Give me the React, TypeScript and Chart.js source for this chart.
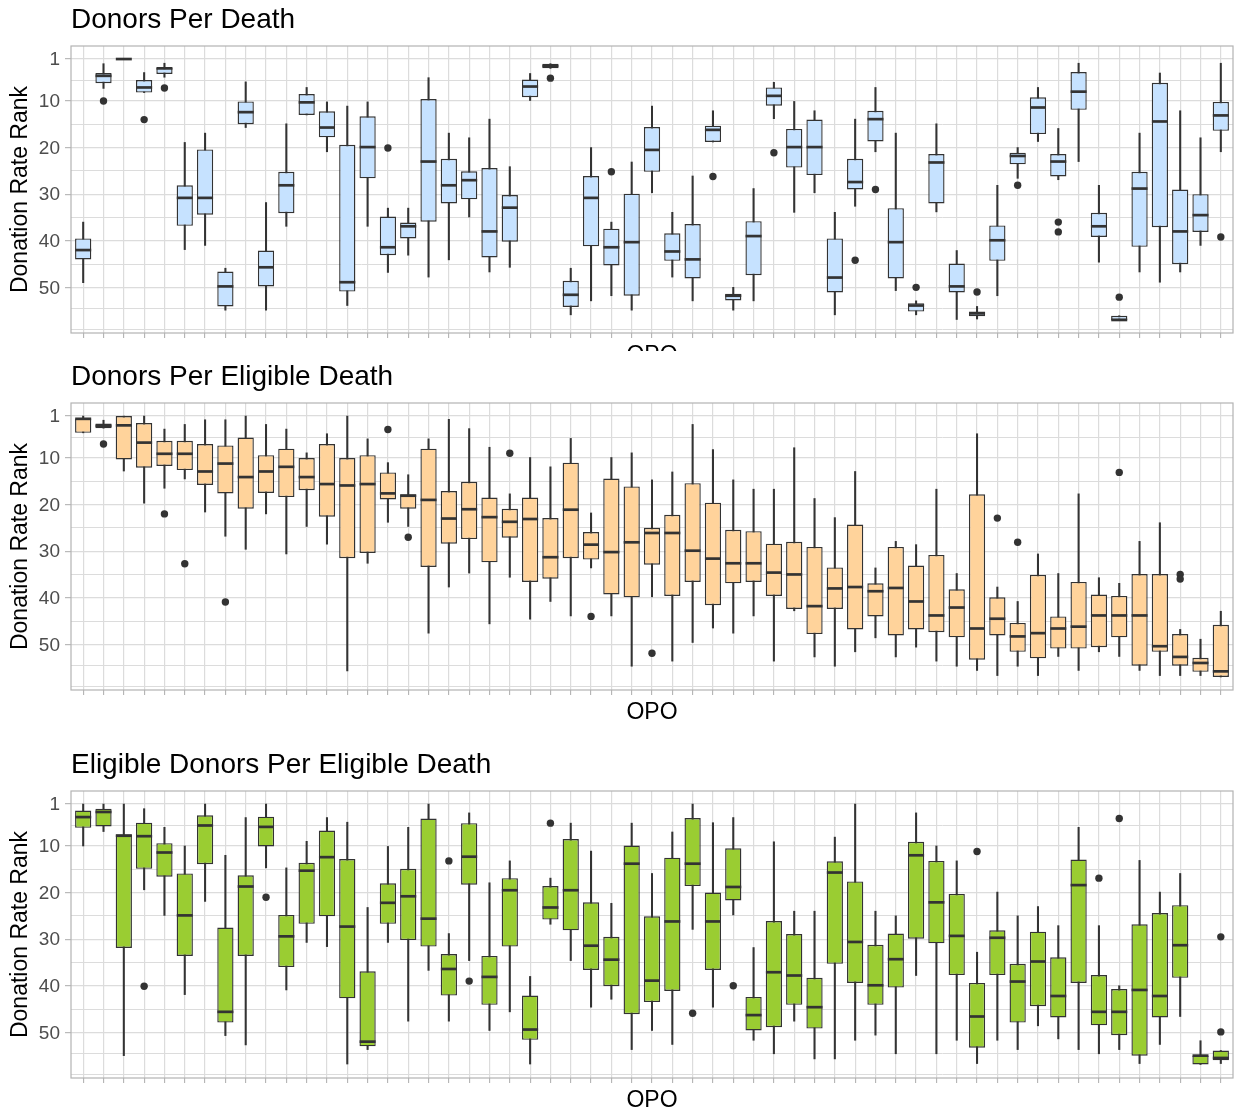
import React, { useEffect, useRef } from 'react';
import { Chart, registerables } from 'chart.js';

Chart.register(...registerables);

const FONT = '"Liberation Sans", Arial, Helvetica, sans-serif';

// ---- texts / ticks ----
const PANEL_TITLES = ['Donors Per Death', 'Donors Per Eligible Death', 'Eligible Donors Per Eligible Death'];
const X_TITLE = 'OPO';
const Y_TITLE = 'Donation Rate Rank';
const Y_TICK_LABELS = [1, 10, 20, 30, 40, 50];
const Y_MINOR_BREAKS = [5.5, 15, 25, 35, 45, 54.5, 59];

// ---- Panel 1: Donors Per Death (one box per OPO, 57 OPOs) ----
const DPD_LO = [36, 2, 1, 3.9, 1.9, 18.9, 16.9, 45.9, 5.9, 31.8, 14.9, 7.1, 10.2, 11.1, 10.2, 33, 33, 5, 16.9, 17.9, 13.9, 24.1, 4.1, 2, 45.9, 20, 36, 23.1, 11.1, 33.9, 26.1, 12.1, 50, 28.8, 6, 10.1, 12.1, 33.9, 13.9, 7.1, 16.9, 52.9, 14.9, 42.1, 54.1, 28.1, 20, 7.1, 15.9, 1.9, 28.1, 56.1, 16.9, 4, 12.1, 17.9, 1.9];
const DPD_Q1 = [39.5, 4, 1, 5.5, 2.9, 28.1, 20.4, 46.6, 10.1, 42.1, 25.2, 8.5, 12.2, 19.4, 13.3, 34.8, 36.1, 9.6, 22.4, 25.1, 24.4, 30.2, 5.4, 2, 48.6, 26.1, 37.4, 29.9, 15.6, 38.4, 36.4, 15.3, 51.4, 35.8, 7.1, 16, 14, 39.5, 22.4, 12.1, 33, 53.4, 21.4, 44.9, 55.2, 36.7, 21.1, 9.2, 21.4, 3.8, 34, 56.1, 25.2, 6.1, 29, 30, 10.2];
const DPD_MED = [42, 4.6, 1, 7.1, 3.0, 30.8, 30.8, 49.8, 12.4, 45.7, 28.1, 10.3, 15.7, 48.9, 19.9, 41.4, 36.9, 23, 28.1, 27, 38, 32.9, 6.9, 2.5, 51.6, 30.8, 41.4, 40.3, 20.5, 42.3, 44, 16.2, 51.8, 39, 8.9, 19.9, 19.9, 47.9, 27.4, 13.9, 40.3, 53.9, 23.2, 49.8, 55.6, 39.9, 21.8, 11.4, 23, 8, 36.9, 57, 28.8, 14.4, 38, 34.5, 13.1];
const DPD_Q3 = [44, 6.2, 1, 8.2, 4.2, 36.8, 34.4, 54.1, 15, 49.8, 34.1, 13, 17.8, 50.9, 26.6, 43.1, 39.5, 35.9, 32, 31.1, 43.6, 40.2, 9.2, 3, 54.2, 41.2, 45.3, 51.8, 25.2, 44.3, 48.1, 18.8, 52.8, 47.4, 11, 24.3, 25.9, 51.1, 29, 18.7, 48.1, 55.2, 32, 51.1, 56.2, 44.3, 23.6, 17.1, 26.2, 11.9, 39.2, 57, 41.3, 37.1, 45, 38.1, 16.4];
const DPD_HI = [49, 7.3, 1, 8.2, 4.9, 41.9, 41, 54.9, 15.7, 54.9, 36.9, 13, 20.9, 53.9, 36.9, 46.8, 43.1, 47.8, 44.1, 34.9, 46.7, 45.7, 9.9, 3, 55.9, 52.9, 51.8, 54.9, 29.7, 47.8, 52.9, 18.8, 54.9, 52.9, 13.8, 33.9, 29.7, 55.9, 32.6, 20.9, 50.7, 55.9, 33.8, 56.9, 56.8, 51.8, 26.6, 18.7, 26.9, 23, 44.6, 57, 46.7, 48.9, 46.7, 41, 20.9];
const DPD_OUT_OPO = [1, 3, 4, 15, 23, 26, 31, 34, 38, 39, 41, 44, 46, 48, 48, 51, 56];
const DPD_OUT_VAL = [10, 14, 7.2, 20.1, 5.1, 25.2, 26.2, 21.1, 44.2, 29, 50, 51, 28.1, 36, 38.1, 52.1, 39.2];

// ---- Panel 2: Donors Per Eligible Death ----
const DPED_LO = [1, 1.9, 1, 1, 3.8, 2.8, 1.8, 1.8, 1, 2.8, 3.8, 8.9, 4.8, 1, 5.9, 11, 13.6, 5.9, 1.7, 3.7, 7.7, 17.7, 9.9, 11.9, 5.8, 21.8, 9.9, 8.9, 14.7, 13, 2.8, 8.2, 14.7, 16.7, 16.7, 7.8, 18.7, 22.8, 12.9, 33.6, 27.9, 28.6, 16.7, 34.8, 4.8, 37.7, 40.8, 30.6, 34.8, 17.7, 35.7, 36.9, 27.9, 23.9, 46.8, 48.9, 42.9];
const DPED_Q1 = [1.5, 2.6, 1, 2.5, 6.3, 6.3, 7, 7.3, 5.6, 9.4, 8, 10, 7, 10, 9.4, 13.1, 17.8, 8, 17.1, 15.1, 18.5, 20.9, 18.5, 22.9, 11, 25.9, 14.4, 16.1, 25, 22.2, 15.4, 19.6, 25.4, 25.7, 28.4, 28, 29.1, 33.5, 24.3, 36.9, 29.1, 33.1, 30.8, 38.2, 17.8, 39.9, 45.4, 35.1, 44, 36.6, 39.3, 39.6, 34.9, 34.9, 47.8, 52.9, 45.8];
const DPED_MED = [1.6, 3.1, 3, 6.7, 9.1, 9.1, 12.9, 11.2, 14.1, 12.9, 11.9, 14.1, 15.6, 15.9, 15.6, 17.6, 18.1, 19, 23, 21, 22.7, 23.7, 23.1, 31.3, 21.1, 28.6, 30.2, 28.1, 26.1, 26.1, 29.9, 31.6, 32.6, 32.6, 34.6, 35, 41.8, 38, 37.7, 38.6, 37.9, 40.8, 43.8, 42.1, 46.6, 44.5, 48.3, 47.6, 46.6, 46.2, 43.8, 43.8, 43.8, 50.4, 52.7, 54, 55.8];
const DPED_Q3 = [4.6, 3.6, 10.3, 12.1, 11.7, 12.6, 15.8, 17.6, 20.9, 17.5, 18.4, 16.9, 22.6, 31.5, 30.4, 18.9, 20.9, 33.4, 28.4, 27.4, 32.4, 27.1, 36.6, 35.9, 31.5, 31.8, 39.3, 39.9, 32.9, 39.6, 36.6, 41.6, 36.9, 36.6, 39.6, 42.4, 47.8, 42.4, 46.8, 44, 48.1, 46.8, 47.4, 48.5, 53.3, 48.1, 51.6, 53, 50.9, 50.9, 50.6, 48.5, 54.6, 51.6, 54.6, 55.9, 57];
const DPED_HI = [4.6, 3.6, 12.8, 19.7, 16.5, 14.5, 21.6, 26.8, 29.6, 22, 30.6, 24.7, 28.5, 55.7, 32.6, 23.8, 24.7, 47.6, 37.7, 34.7, 45.6, 35.6, 44.6, 40.8, 43.9, 33.6, 43.9, 54.7, 39.8, 53.6, 49.6, 46.5, 47.6, 43.9, 53.6, 42.8, 52.7, 54.7, 51.6, 48.6, 52.7, 50.6, 53.6, 54.7, 55.6, 56.7, 54.7, 56.7, 52.6, 55.6, 51.6, 52.6, 55.6, 56.7, 56.7, 56.7, 57];
const DPED_OUT_OPO = [1, 4, 5, 7, 15, 16, 21, 25, 28, 45, 46, 51, 54, 54];
const DPED_OUT_VAL = [7, 22, 32.7, 40.9, 3.9, 27, 9, 44, 51.9, 22.9, 28.1, 13.1, 35, 36];

// ---- Panel 3: Eligible Donors Per Eligible Death ----
const EDPED_LO = [1, 1, 1, 2, 6, 10, 1, 12, 3.9, 1, 14.7, 9, 3.9, 4.9, 23.2, 10.1, 6, 1, 28.8, 2.9, 17.9, 13.2, 38, 16.9, 5.1, 11.1, 22.3, 5.1, 15.9, 7, 1, 5, 3.9, 31.8, 9.1, 24, 24, 8.1, 1, 24, 25, 2.9, 10, 13.2, 32.8, 19.9, 25, 23, 27.1, 6, 27.1, 40, 13.1, 19.9, 15.9, 51.8, 53.9];
const EDPED_Q1 = [2.4, 2, 7.5, 5, 9.4, 15.9, 3.4, 27.5, 16.3, 3.7, 24.8, 13.6, 6.7, 12.8, 36.9, 18, 14.9, 4.1, 33.2, 5.1, 33.6, 16.9, 42.1, 18.6, 8.5, 22.1, 29.5, 9.9, 25.1, 12.5, 4, 20, 10.5, 42.4, 26.1, 28.9, 38.3, 13.3, 17.6, 31.2, 28.8, 9.1, 13.2, 20.3, 39.4, 28.1, 35.3, 28.4, 33.9, 12.9, 37.7, 40.7, 26.8, 24.4, 22.7, 55, 53.9];
const EDPED_MED = [3.8, 2.7, 7.8, 7.9, 11.4, 24.9, 5.6, 45.6, 18.7, 5.9, 29.4, 15.3, 12.4, 27.3, 52, 22.2, 20.8, 25.6, 36.4, 12.3, 38.1, 19.5, 49.4, 23.2, 19.5, 31.4, 34.4, 13.8, 38.9, 26.2, 13.8, 26.2, 18.8, 46.3, 37.1, 37.8, 44.6, 15.7, 30.6, 39.9, 34.3, 12, 22.1, 29.3, 46.6, 29.7, 39.1, 34.8, 42.2, 18.4, 45.6, 45.6, 40.9, 42.2, 31.3, 55, 55.5];
const EDPED_Q3 = [6.1, 5.8, 31.9, 14.9, 16.6, 33.6, 13.9, 47.9, 33.6, 10.1, 36, 26.7, 25.1, 42.7, 53, 26.7, 30.2, 31.6, 42.1, 18.3, 44.1, 31.6, 51.6, 25.8, 28.1, 36.6, 40.1, 46.1, 43.5, 41.1, 18.6, 36.6, 21.7, 49.6, 48.9, 44.1, 49.2, 35.3, 39.4, 44.1, 40.4, 29.9, 30.9, 37.7, 53.3, 37.7, 47.9, 44.4, 46.8, 39.4, 48.5, 50.6, 55, 46.8, 38.3, 56.9, 56];
const EDPED_HI = [10, 6.9, 55, 19.4, 24.9, 41.9, 21.9, 50.7, 52.7, 14.7, 40.9, 30.7, 31.6, 56.8, 53.7, 30.7, 47.6, 36.7, 47.6, 34.6, 49.6, 45.6, 56.8, 26.8, 34.6, 44.6, 42.9, 53.7, 49.6, 52.6, 27.9, 44.6, 24.8, 51.7, 54.6, 47.6, 55.7, 55.7, 51.7, 50.6, 54.6, 37.8, 54.6, 51.7, 56.7, 51.7, 53.7, 48.6, 51.4, 53.7, 54.6, 53.7, 56.7, 52.6, 46.6, 56.9, 56.7];
const EDPED_OUT_OPO = [3, 9, 18, 19, 23, 30, 32, 44, 50, 51, 56, 56];
const EDPED_OUT_VAL = [40.1, 21, 13.2, 39, 5.1, 45.9, 40, 11.2, 16.9, 4.1, 29.5, 49.9];

// ---- colours ----
const FILLS = ['#C6E2FF', '#FFD39B', '#9ACD32'];
const INK = '#333333';
const GRID = '#DCDCDC';
const FRAME = '#B3B3B3';

const panelBorder = {
  id: 'panelBorder',
  afterDatasetsDraw(chart: any) {
    const { ctx, chartArea } = chart;
    ctx.save();
    ctx.strokeStyle = FRAME;
    ctx.lineWidth = 1.2;
    ctx.strokeRect(chartArea.left, chartArea.top, chartArea.right - chartArea.left, chartArea.bottom - chartArea.top);
    ctx.restore();
  },
};

type PanelProps = {
  title: string;
  fill: string;
  lo: number[];
  q1: number[];
  med: number[];
  q3: number[];
  hi: number[];
  outOpo: number[];
  outVal: number[];
};

function BoxPanel(props: PanelProps) {
  const ref = useRef<HTMLCanvasElement | null>(null);
  useEffect(() => {
    if (!ref.current) return;
    const { title, fill, lo, q1, med, q3, hi, outOpo, outVal } = props;
    const positions = med.map((_, i) => i);
    const isMajor = (v: number) => Y_TICK_LABELS.includes(v);
    const chart = new Chart(ref.current, {
      type: 'bar',
      data: {
        datasets: [
          {
            type: 'line',
            label: 'outliers',
            data: outOpo.map((x, k) => ({ x, y: outVal[k] })),
            showLine: false,
            pointRadius: 3.7,
            pointBackgroundColor: INK,
            pointBorderWidth: 0,
            order: 0,
          } as any,
          {
            type: 'line',
            label: 'median',
            data: med.map((y, i) => ({ x: i, y })),
            showLine: false,
            pointStyle: 'line',
            pointRadius: 8,
            pointBorderWidth: 2.7,
            pointBorderColor: INK,
            order: 1,
          } as any,
          {
            type: 'bar',
            label: 'box',
            data: q1.map((a, i) => ({ x: i, y: [a, q3[i]] })),
            backgroundColor: fill,
            borderColor: INK,
            borderWidth: 1.4,
            borderSkipped: false,
            grouped: false,
            barPercentage: 0.8,
            categoryPercentage: 1,
            order: 2,
          } as any,
          {
            type: 'bar',
            label: 'whisker',
            data: lo.map((a, i) => ({ x: i, y: [a, hi[i]] })),
            backgroundColor: INK,
            borderWidth: 0,
            barThickness: 1.4,
            grouped: false,
            order: 3,
          } as any,
        ],
      },
      options: {
        responsive: false,
        animation: false,
        events: [],
        devicePixelRatio: 1,
        layout: { autoPadding: false, padding: { left: 0, right: 2, top: 0, bottom: 0 } },
        plugins: {
          legend: { display: false },
          tooltip: { enabled: false },
          title: {
            display: true,
            text: title,
            align: 'start',
            fullSize: false,
            color: '#000000',
            font: { family: FONT, size: 28, weight: 'normal', lineHeight: 1.2 },
            padding: { top: 3.5, bottom: 8.9 },
          },
        },
        scales: {
          x: {
            type: 'linear',
            min: -0.6,
            max: 56.6,
            offset: false,
            afterBuildTicks: (s: any) => {
              s.ticks = positions.map((v) => ({ value: v }));
            },
            afterFit: (s: any) => {
              s.height = 55;
              s.paddingLeft = 0;
              s.paddingRight = 0;
            },
            ticks: { autoSkip: false, maxRotation: 0, padding: 0, callback: () => '' },
            grid: { color: GRID, lineWidth: 1.2, tickColor: FRAME, tickLength: 5, tickWidth: 1.1, offset: false },
            border: { display: false },
            title: {
              display: true,
              text: X_TITLE,
              color: '#000000',
              font: { family: FONT, size: 23, lineHeight: 1.2 },
              padding: { top: 0, bottom: 18.2 },
            },
          },
          y: {
            type: 'linear',
            reverse: true,
            min: -1.8,
            max: 59.8,
            afterBuildTicks: (s: any) => {
              s.ticks = [...Y_TICK_LABELS, ...Y_MINOR_BREAKS].sort((a, b) => a - b).map((v) => ({ value: v }));
            },
            afterFit: (s: any) => {
              s.width = 71;
              s.paddingTop = 0;
              s.paddingBottom = 0;
            },
            ticks: {
              autoSkip: false,
              padding: 5,
              labelOffset: 1,
              color: '#4D4D4D',
              font: { family: FONT, size: 19 },
              callback: (v: any) => (isMajor(Number(v)) ? String(v) : ''),
            },
            grid: {
              color: GRID,
              lineWidth: (c: any) => (c.tick && isMajor(c.tick.value) ? 1.3 : 1.0),
              tickColor: (c: any) => (c.tick && isMajor(c.tick.value) ? FRAME : 'rgba(0,0,0,0)'),
              tickLength: 6,
              tickWidth: 1.1,
            },
            border: { display: false },
            title: {
              display: true,
              text: Y_TITLE,
              color: '#000000',
              font: { family: FONT, size: 23, lineHeight: 1.2 },
              padding: { top: 7, bottom: 0 },
            },
          },
        },
      } as any,
      plugins: [panelBorder],
    });
    return () => chart.destroy();
  }, []);
  return <canvas ref={ref} width={1235} height={388} style={{ display: 'block' }} />;
}

const wrap = (top: number, height: number): React.CSSProperties => ({
  position: 'absolute',
  left: 0,
  top,
  width: 1235,
  height,
  overflow: 'hidden',
});

export default function App() {
  Chart.defaults.font.family = FONT;
  return (
    <div style={{ position: 'absolute', left: 0, top: 0, width: 1235, height: 1116, background: '#ffffff', overflow: 'hidden' }}>
      <div style={wrap(0, 351)}>
        <BoxPanel title={PANEL_TITLES[0]} fill={FILLS[0]} lo={DPD_LO} q1={DPD_Q1} med={DPD_MED} q3={DPD_Q3} hi={DPD_HI} outOpo={DPD_OUT_OPO} outVal={DPD_OUT_VAL} />
      </div>
      <div style={wrap(357, 388)}>
        <BoxPanel title={PANEL_TITLES[1]} fill={FILLS[1]} lo={DPED_LO} q1={DPED_Q1} med={DPED_MED} q3={DPED_Q3} hi={DPED_HI} outOpo={DPED_OUT_OPO} outVal={DPED_OUT_VAL} />
      </div>
      <div style={wrap(745, 371)}>
        <BoxPanel title={PANEL_TITLES[2]} fill={FILLS[2]} lo={EDPED_LO} q1={EDPED_Q1} med={EDPED_MED} q3={EDPED_Q3} hi={EDPED_HI} outOpo={EDPED_OUT_OPO} outVal={EDPED_OUT_VAL} />
      </div>
    </div>
  );
}
